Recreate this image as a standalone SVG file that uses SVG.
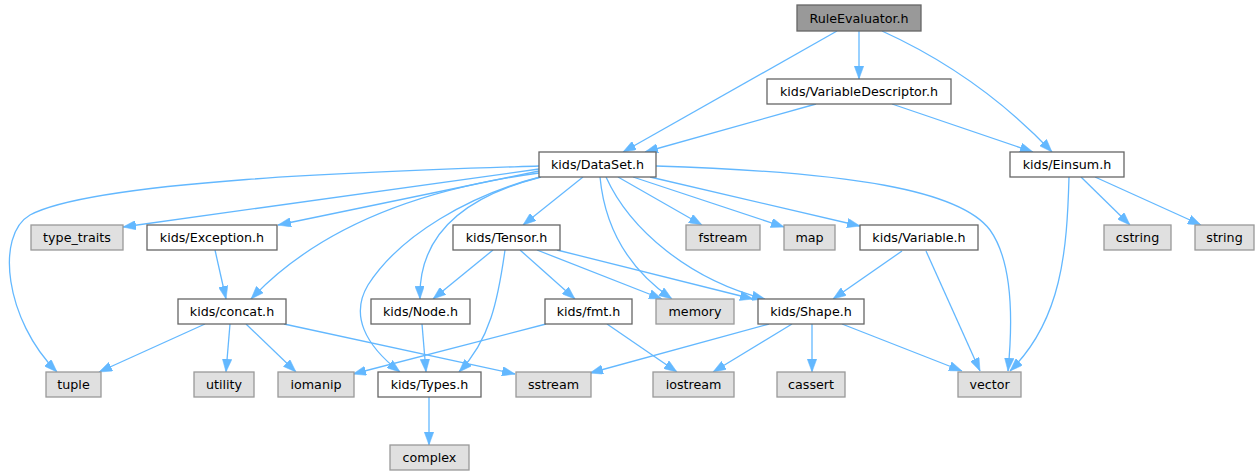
<svg xmlns="http://www.w3.org/2000/svg" width="1259" height="476" viewBox="0 0 1259 476">
<style>
.n rect{fill:#ffffff;stroke:#666666;stroke-width:1.3}
.s rect{fill:#e0e0e0;stroke:#999999;stroke-width:1.3}
.r rect{fill:#999999;stroke:#666666;stroke-width:1.3}
text{font-family:"DejaVu Sans",sans-serif;font-size:12.7px;fill:#000000;text-anchor:middle}
#edges path{fill:none;stroke:#63b8ff;stroke-width:1.3;marker-end:url(#ah)}
</style>
<defs>
<marker id="ah" viewBox="0 0 13 9.5" refX="13" refY="4.75" markerWidth="13" markerHeight="9.5" orient="auto" markerUnits="userSpaceOnUse">
<path d="M0,0 L13,4.75 L0,9.5 z" fill="#63b8ff" stroke="#63b8ff" stroke-width="0.5"/>
</marker>
</defs>
<rect width="1259" height="476" fill="#ffffff"/>
<g id="edges">
<path d="M837,31 L623,152"/>
<path d="M859,31 L859,79"/>
<path d="M882,31 Q979,75 1052,152"/>
<path d="M816,104 L645,152"/>
<path d="M892,104 L1033,152"/>
<path d="M539,166 C420,170 100,178 30,215 C-5,235 5,320 57,372"/>
<path d="M539,169 L123,227"/>
<path d="M539,171 L278,225"/>
<path d="M539,173 C450,185 330,215 251,299"/>
<path d="M540,177 C470,195 400,235 368,285 C350,315 365,345 400,372"/>
<path d="M541,177 C470,195 418,230 420,299"/>
<path d="M583,177 L523,225"/>
<path d="M600,177 C605,230 630,270 672,299"/>
<path d="M606,177 C630,230 690,280 765,299"/>
<path d="M618,177 L702,225"/>
<path d="M633,177 L784,227"/>
<path d="M650,177 L860,226"/>
<path d="M656,166 C850,172 960,190 990,230 C1015,265 1012,330 1008,371"/>
<path d="M493,250 L433,299"/>
<path d="M505,250 C498,300 490,340 459,372"/>
<path d="M520,250 L575,299"/>
<path d="M537,250 L662,299"/>
<path d="M557,250 L753,299"/>
<path d="M215,250 L226,299"/>
<path d="M205,324 L99,372"/>
<path d="M230,324 L226,372"/>
<path d="M246,324 L296,372"/>
<path d="M284,324 L515,374"/>
<path d="M422,324 L426,372"/>
<path d="M546,324 L353,374"/>
<path d="M607,324 L677,372"/>
<path d="M769,324 L590,373"/>
<path d="M792,324 L713,372"/>
<path d="M812,324 L812,372"/>
<path d="M842,324 L962,371"/>
<path d="M902,251 L833,299"/>
<path d="M926,251 L980,371"/>
<path d="M1069,177 C1067,250 1062,320 1010,371"/>
<path d="M1081,177 L1130,225"/>
<path d="M1095,177 L1201,225"/>
<path d="M429,397 L429,445"/>
</g>
<g id="n_rule" class="r"><rect x="797" y="5" width="124" height="26"/><text x="859" y="22.5">RuleEvaluator.h</text></g>
<g id="n_vardesc" class="n"><rect x="767" y="79" width="184" height="25"/><text x="859" y="96">kids/VariableDescriptor.h</text></g>
<g id="n_dataset" class="n"><rect x="539" y="152" width="117" height="25"/><text x="597.5" y="169">kids/DataSet.h</text></g>
<g id="n_einsum" class="n"><rect x="1010" y="152" width="114" height="25"/><text x="1067" y="169">kids/Einsum.h</text></g>
<g id="n_type_traits" class="s"><rect x="31" y="225" width="92" height="25"/><text x="77" y="242">type_traits</text></g>
<g id="n_exception" class="n"><rect x="147" y="225" width="130" height="25"/><text x="212" y="242">kids/Exception.h</text></g>
<g id="n_tensor" class="n"><rect x="453" y="225" width="107" height="25"/><text x="506.5" y="242">kids/Tensor.h</text></g>
<g id="n_fstream" class="s"><rect x="686" y="225" width="74" height="25"/><text x="723" y="242">fstream</text></g>
<g id="n_map" class="s"><rect x="784" y="225" width="51" height="25"/><text x="809.5" y="242">map</text></g>
<g id="n_variable" class="n"><rect x="860" y="225" width="118" height="25"/><text x="919" y="242">kids/Variable.h</text></g>
<g id="n_cstring" class="s"><rect x="1104" y="225" width="67" height="25"/><text x="1137.5" y="242">cstring</text></g>
<g id="n_string" class="s"><rect x="1195" y="225" width="59" height="25"/><text x="1224.5" y="242">string</text></g>
<g id="n_concat" class="n"><rect x="178" y="299" width="108" height="25"/><text x="232" y="316">kids/concat.h</text></g>
<g id="n_node" class="n"><rect x="371" y="299" width="99" height="25"/><text x="420.5" y="316">kids/Node.h</text></g>
<g id="n_fmt" class="n"><rect x="545" y="299" width="87" height="25"/><text x="588.5" y="316">kids/fmt.h</text></g>
<g id="n_memory" class="s"><rect x="656" y="299" width="78" height="25"/><text x="695" y="316">memory</text></g>
<g id="n_shape" class="n"><rect x="758" y="299" width="106" height="25"/><text x="811" y="316">kids/Shape.h</text></g>
<g id="n_tuple" class="s"><rect x="46" y="372" width="55" height="25"/><text x="73.5" y="389">tuple</text></g>
<g id="n_utility" class="s"><rect x="194" y="372" width="60" height="25"/><text x="224" y="389">utility</text></g>
<g id="n_iomanip" class="s"><rect x="278" y="372" width="76" height="25"/><text x="316" y="389">iomanip</text></g>
<g id="n_types" class="n"><rect x="378" y="372" width="103" height="25"/><text x="429.5" y="389">kids/Types.h</text></g>
<g id="n_sstream" class="s"><rect x="516" y="372" width="75" height="25"/><text x="553.5" y="389">sstream</text></g>
<g id="n_iostream" class="s"><rect x="653" y="372" width="81" height="25"/><text x="693.5" y="389">iostream</text></g>
<g id="n_cassert" class="s"><rect x="777" y="372" width="68" height="25"/><text x="811" y="389">cassert</text></g>
<g id="n_vector" class="s"><rect x="958" y="372" width="63" height="25"/><text x="989.5" y="389">vector</text></g>
<g id="n_complex" class="s"><rect x="390" y="445" width="79" height="25"/><text x="429.5" y="462">complex</text></g>
</svg>
